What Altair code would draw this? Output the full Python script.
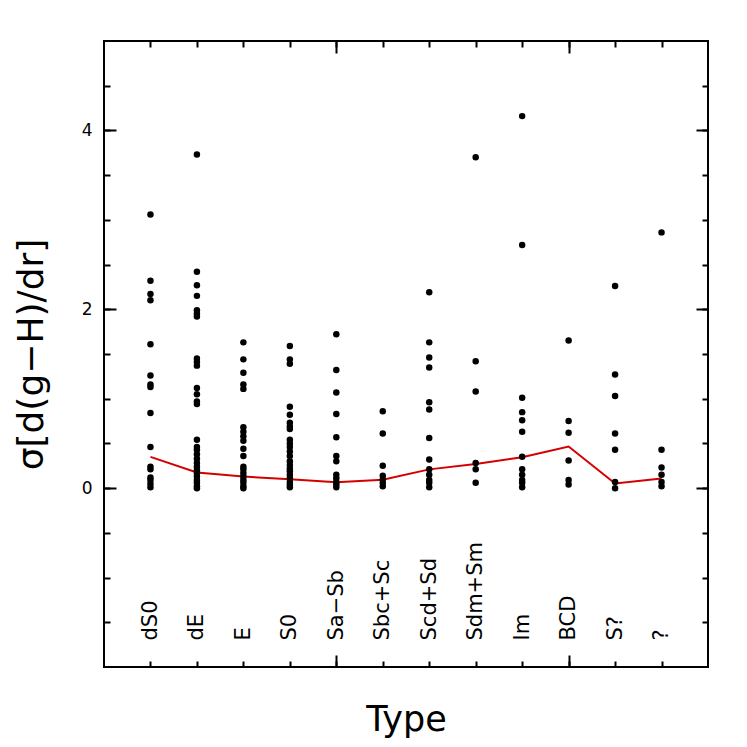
import altair as alt
import pandas as pd

FONT = "DejaVu Sans"

types = ["dS0", "dE", "E", "S0", "Sa−Sb", "Sbc+Sc", "Scd+Sd", "Sdm+Sm", "Im", "BCD", "S?", "?"]

sigma_dS0 = [3.06, 2.32, 2.17, 2.10, 1.61, 1.26, 1.16, 1.13, 0.84, 0.46, 0.24, 0.21, 0.12, 0.09, 0.05, 0.01]
sigma_dE = [3.73, 2.42, 2.27, 2.15, 1.99, 1.95, 1.92, 1.45, 1.41, 1.37, 1.12, 1.05, 0.97, 0.94,
            0.54, 0.46, 0.43, 0.38, 0.33, 0.28, 0.24, 0.20, 0.17, 0.13, 0.09, 0.06, 0.02, 0.00]
sigma_E = [1.63, 1.44, 1.29, 1.16, 1.11, 0.68, 0.63, 0.58, 0.53, 0.44, 0.36, 0.24, 0.21, 0.17,
           0.13, 0.09, 0.06, 0.02, 0.00]
sigma_S0 = [1.59, 1.44, 1.39, 0.91, 0.82, 0.73, 0.69, 0.66, 0.54, 0.50, 0.46, 0.41, 0.36, 0.30,
            0.26, 0.22, 0.19, 0.15, 0.11, 0.07, 0.04, 0.01]
sigma_SaSb = [1.72, 1.32, 1.07, 0.83, 0.57, 0.36, 0.30, 0.15, 0.11, 0.07, 0.04, 0.01]
sigma_SbcSc = [0.86, 0.61, 0.25, 0.14, 0.10, 0.06, 0.02]
sigma_ScdSd = [2.19, 1.63, 1.46, 1.35, 0.96, 0.88, 0.56, 0.32, 0.21, 0.15, 0.09, 0.06, 0.01]
sigma_SdmSm = [3.70, 1.42, 1.08, 0.28, 0.21, 0.06]
sigma_Im = [4.16, 2.72, 1.01, 0.85, 0.76, 0.63, 0.35, 0.21, 0.15, 0.09, 0.06, 0.01]
sigma_BCD = [1.65, 0.75, 0.62, 0.31, 0.09, 0.04]
sigma_Sq = [2.26, 1.27, 1.03, 0.61, 0.43, 0.07, 0.00]
sigma_q = [2.86, 0.43, 0.23, 0.15, 0.07, 0.02]

median_sigma = [0.35, 0.175, 0.13, 0.10, 0.067, 0.093, 0.21, 0.27, 0.345, 0.465, 0.052, 0.108]

y_major_ticks = [0, 2, 4]
y_minor_ticks = [-1.5, -1, -0.5, 0, 0.5, 1, 1.5, 2, 2.5, 3, 3.5, 4, 4.5]
x_major_ticks = ["Sa−Sb", "BCD"]

groups = [sigma_dS0, sigma_dE, sigma_E, sigma_S0, sigma_SaSb, sigma_SbcSc,
          sigma_ScdSd, sigma_SdmSm, sigma_Im, sigma_BCD, sigma_Sq, sigma_q]
points = pd.DataFrame([{"type": t, "sigma": v} for t, vals in zip(types, groups) for v in vals])
medians = pd.DataFrame({"type": types, "sigma": median_sigma, "idx": list(range(len(types)))})

W, H = 604, 626

xscale = alt.Scale(type="point", domain=types, padding=1)
yscale = alt.Scale(domain=[-2, 5], nice=False, zero=False)

tick_common = dict(tickWidth=2, tickColor="black", domain=False, grid=False, title=None)

# x axes
ax_title = alt.Axis(orient="bottom", ticks=False, labels=False, domain=False, grid=False,
                    title="Type", titleFont=FONT, titleFontSize=35, titleFontWeight="normal",
                    titleColor="black", titleY=63, titleBaseline="alphabetic")
ax_bottom_minor = alt.Axis(orient="top", offset=-H, tickSize=6, labelAngle=270, labelAlign="left",
                           labelBaseline="middle", labelPadding=21, labelFontSize=21, labelFont=FONT,
                           labelColor="black", labelOverlap=False, **tick_common)
ax_bottom_major = alt.Axis(orient="top", offset=-H, values=x_major_ticks, tickSize=12, labels=False, **tick_common)
ax_top_minor = alt.Axis(orient="bottom", offset=-H, tickSize=6, labels=False, **tick_common)
ax_top_major = alt.Axis(orient="bottom", offset=-H, values=x_major_ticks, tickSize=12, labels=False, **tick_common)

# y axes
ay_labels = alt.Axis(orient="left", values=y_major_ticks, ticks=False, domain=False, grid=False,
                     labelFontSize=17, labelPadding=12, labelFont=FONT, labelColor="black", format="d",
                     title="σ[d(g−H)/dr]", titleFont=FONT, titleFontSize=36, titleFontWeight="normal",
                     titleColor="black", titleX=-73, titleY=H / 2, titleAngle=270,
                     titleAlign="center", titleBaseline="middle")
ay_left_minor = alt.Axis(orient="right", offset=-W, values=y_minor_ticks, tickSize=6, labels=False, **tick_common)
ay_left_major = alt.Axis(orient="right", offset=-W, values=y_major_ticks, tickSize=12, labels=False, **tick_common)
ay_right_minor = alt.Axis(orient="left", offset=-W, values=y_minor_ticks, tickSize=6, labels=False, **tick_common)
ay_right_major = alt.Axis(orient="left", offset=-W, values=y_major_ticks, tickSize=12, labels=False, **tick_common)


def enc(chart, ax, ay):
    return chart.encode(
        x=alt.X("type:N", scale=xscale, axis=ax),
        y=alt.Y("sigma:Q", scale=yscale, axis=ay),
    )


inv1 = enc(alt.Chart(medians).mark_point(opacity=0), ax_title, ay_labels)
inv2 = enc(alt.Chart(medians).mark_point(opacity=0), ax_bottom_major, ay_left_major)
inv3 = enc(alt.Chart(medians).mark_point(opacity=0), ax_top_minor, ay_right_minor)
line = enc(alt.Chart(medians).mark_line(color="#d40000", strokeWidth=2), ax_top_major, ay_right_major).encode(
    order=alt.Order("idx:Q"))
dots = enc(alt.Chart(points).mark_circle(color="black", opacity=1, size=42), ax_bottom_minor, ay_left_minor)

chart = alt.layer(inv1, inv2, inv3, line, dots).resolve_axis(
    x="independent", y="independent"
).properties(
    width=W, height=H,
    padding={"left": 96, "top": 33, "right": 23, "bottom": 72},
    autosize=alt.AutoSizeParams(type="none"),
    background="white",
).configure_view(stroke="black", strokeWidth=2)

chart.save("out.html", embed_options={"renderer": "svg", "actions": False})
